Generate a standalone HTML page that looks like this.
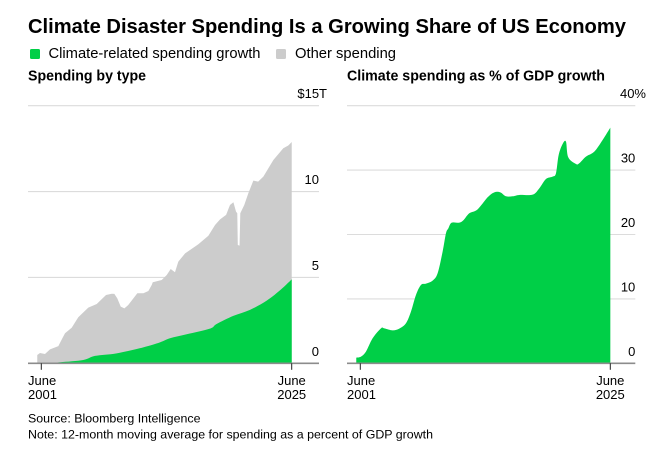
<!DOCTYPE html>
<html lang="en">
<head>
<meta charset="utf-8">
<title>Climate Disaster Spending Is a Growing Share of US Economy</title>
<style>
html,body{margin:0;padding:0;background:#fff;width:662px;height:464px;overflow:hidden}
svg{display:block}
text{font-family:"Liberation Sans",sans-serif;fill:#000}
.title{font-size:20px;font-weight:700}
.legend{font-size:15px}
.sub{font-size:14.5px;font-weight:700}
.tick{font-size:13px}
.foot{font-size:12.3px}
</style>
</head>
<body>
<svg id="chart" xmlns="http://www.w3.org/2000/svg" width="662" height="464" viewBox="0 0 662 464">
  <rect width="662" height="464" fill="#fff"/>
  <text class="title" x="28" y="33" textLength="598" lengthAdjust="spacingAndGlyphs">Climate Disaster Spending Is a Growing Share of US Economy</text>
  <g>
    <rect x="30" y="49" width="10" height="10" rx="1.5" fill="#00cf47"/>
    <text class="legend" x="48.5" y="58" textLength="212" lengthAdjust="spacingAndGlyphs">Climate-related spending growth</text>
    <rect x="276" y="49" width="10" height="10" rx="1.5" fill="#cccccc"/>
    <text class="legend" x="295" y="58" textLength="101" lengthAdjust="spacingAndGlyphs">Other spending</text>
  </g>
  <text class="sub" x="28" y="80.5" textLength="118" lengthAdjust="spacingAndGlyphs">Spending by type</text>
  <text class="sub" x="347" y="80.5" textLength="258" lengthAdjust="spacingAndGlyphs">Climate spending as % of GDP growth</text>
  <g id="left-panel"></g>
  <g id="right-panel"></g>
  <text class="foot" x="28" y="422.7" textLength="172.500" lengthAdjust="spacingAndGlyphs">Source: Bloomberg Intelligence</text>
  <text class="foot" x="28" y="438.7" textLength="405" lengthAdjust="spacingAndGlyphs">Note: 12-month moving average for spending as a percent of GDP growth</text>
</svg>
<script>
var totalYears = [2001.03,2001.29,2001.77,2002.25,2003.05,2003.43,2003.69,2004.33,2004.96,2005.92,2006.73,2007.62,2008.17,2008.42,2008.7,2009.03,2009.38,2009.76,2010.62,2011.2,2011.68,2012.0,2012.1,2012.96,2013.44,2013.82,2014.23,2014.55,2015.2,2016.47,2017.43,2018.07,2018.55,2019.13,2019.5,2019.83,2020.08,2020.2,2020.25,2020.42,2020.49,2020.87,2021.26,2021.74,2022.2,2022.7,2023.66,2024.61,2025.09,2025.42];
var totalSpending = [0.48,0.6,0.54,0.81,1.0,1.45,1.75,2.07,2.68,3.24,3.45,3.98,4.05,4.04,3.78,3.3,3.2,3.4,4.08,4.08,4.21,4.56,4.72,4.85,5.14,5.49,5.3,5.92,6.4,6.93,7.43,8.05,8.38,8.64,9.22,9.38,8.83,8.74,6.89,6.85,8.74,9.22,9.9,10.64,10.58,10.87,11.84,12.52,12.68,12.89];
var climateYears = [2001.42,2003.21,2005.44,2006.56,2008.64,2011.19,2012.79,2013.75,2015.35,2017.58,2018.22,2019.82,2021.42,2023.02,2024.2,2025.42];
var climateSpending = [0,0.06,0.19,0.43,0.58,0.93,1.22,1.46,1.69,2.02,2.29,2.76,3.11,3.65,4.2,4.89];
var shareYears = [2001.03,2001.48,2001.96,2002.6,2003.4,2003.72,2004.52,2005.16,2005.8,2006.28,2006.76,2007.24,2007.72,2008.36,2008.84,2009.32,2009.64,2009.87,2010.19,2010.92,2011.34,2011.88,2012.68,2013.64,2014.28,2014.86,2015.4,2016.04,2016.68,2017.96,2018.6,2019.24,2019.88,2020.2,2020.46,2020.84,2021.16,2021.38,2022.12,2022.44,2023.08,2023.88,2024.68,2025.42];
var shareOfGdp = [0.88,1.04,1.81,3.88,5.43,5.43,5.12,5.38,6.21,8.02,10.61,12.16,12.37,12.84,13.98,17.34,20.19,20.96,21.84,21.84,22.26,23.29,23.91,25.78,26.55,26.55,25.93,25.93,26.14,26.19,27.17,28.62,28.99,29.5,32.35,34.06,34.42,31.99,30.95,31.06,32.09,32.87,34.68,36.59];
var leftTickValues = [0,5,10,15];
var leftTickLabels = ['0','5','10','$15T'];
var rightTickValues = [0,10,20,30,40];
var rightTickLabels = ['0','10','20','30','40%'];
var dateTickYears = [2001.417,2025.417];
var dateTickMonths = ['June','June'];
var dateTickLabels = ['2001','2025'];

var NS = 'http://www.w3.org/2000/svg';
var BASE_Y = 363.3;
var TOP_Y = 105.7;

function makeX(x0, x1) {
  return function (year) {
    return x0 + (year - dateTickYears[0]) * (x1 - x0) / (dateTickYears[1] - dateTickYears[0]);
  };
}
function makeY(max) {
  return function (value) {
    return BASE_Y - value * (BASE_Y - TOP_Y) / max;
  };
}
function linePath(xs, ys, sx, sy) {
  var d = 'M' + sx(xs[0]).toFixed(2) + ' ' + BASE_Y;
  for (var i = 0; i < xs.length; i++) {
    d += 'L' + sx(xs[i]).toFixed(2) + ' ' + sy(ys[i]).toFixed(2);
  }
  return d + 'L' + sx(xs[xs.length - 1]).toFixed(2) + ' ' + BASE_Y + 'Z';
}
function smoothPath(xs, ys, sx, sy) {
  var px = xs.map(sx);
  var py = ys.map(sy);
  var d = 'M' + px[0].toFixed(2) + ' ' + BASE_Y + 'L' + px[0].toFixed(2) + ' ' + py[0].toFixed(2);
  for (var i = 0; i < px.length - 1; i++) {
    var p0 = Math.max(i - 1, 0);
    var p3 = Math.min(i + 2, px.length - 1);
    var c1x = px[i] + (px[i + 1] - px[p0]) / 6;
    var c1y = py[i] + (py[i + 1] - py[p0]) / 6;
    var c2x = px[i + 1] - (px[p3] - px[i]) / 6;
    var c2y = py[i + 1] - (py[p3] - py[i]) / 6;
    d += 'C' + c1x.toFixed(2) + ' ' + c1y.toFixed(2) + ' ' + c2x.toFixed(2) + ' ' + c2y.toFixed(2) + ' ' + px[i + 1].toFixed(2) + ' ' + py[i + 1].toFixed(2);
  }
  return d + 'L' + px[px.length - 1].toFixed(2) + ' ' + BASE_Y + 'Z';
}
function addArea(parent, d, fill, name) {
  var el = document.createElementNS(NS, 'path');
  
  
  el.setAttribute('d', d);
  el.setAttribute('fill', fill);
  parent.appendChild(el);
}
function addGrid(parent, values, sy, x0, x1) {
  values.forEach(function (v) {
    if (v === 0) return;
    var el = document.createElementNS(NS, 'line');
    
    
    el.setAttribute('x1', x0);
    el.setAttribute('x2', x1);
    el.setAttribute('y1', sy(v));
    el.setAttribute('y2', sy(v));
    el.setAttribute('stroke', '#dcdcdc');
    el.setAttribute('stroke-width', '1.1');
    parent.appendChild(el);
  });
}
function addLabel(parent, str, x, y, anchor, name) {
  var el = document.createElementNS(NS, 'text');
  
  
  el.setAttribute('class', 'tick');
  el.setAttribute('x', x);
  el.setAttribute('y', y);
  el.setAttribute('text-anchor', anchor);
  el.textContent = str;
  parent.appendChild(el);
}
function addValueLabels(parent, values, labels, sy, axisEnd, anchorX) {
  values.forEach(function (v, i) {
    var isTop = i === values.length - 1;
    var x = isTop ? anchorX : axisEnd;
    addLabel(parent, labels[i], x, sy(v) - 7.5, 'end', 'y-axis-label');
  });
}
function addAxis(parent, sx, x0, x1, firstLabelX) {
  var axis = document.createElementNS(NS, 'line');
  
  
  axis.setAttribute('x1', x0);
  axis.setAttribute('x2', x1);
  axis.setAttribute('y1', BASE_Y);
  axis.setAttribute('y2', BASE_Y);
  axis.setAttribute('stroke', '#8c8c8c');
  axis.setAttribute('stroke-width', '1.6');
  parent.appendChild(axis);
  dateTickYears.forEach(function (year, i) {
    var tick = document.createElementNS(NS, 'line');
    
    
    tick.setAttribute('x1', sx(year));
    tick.setAttribute('x2', sx(year));
    tick.setAttribute('y1', BASE_Y);
    tick.setAttribute('y2', BASE_Y + 6.5);
    tick.setAttribute('stroke', '#222');
    tick.setAttribute('stroke-width', '1');
    parent.appendChild(tick);
    var lx = i === 0 ? firstLabelX : sx(year);
    var anchor = i === 0 ? 'start' : 'middle';
    addLabel(parent, dateTickMonths[i], lx, 385, anchor, 'x-axis-month-label');
    addLabel(parent, dateTickLabels[i], lx, 399, anchor, 'x-axis-year-label');
  });
}

var leftX = makeX(41.3, 291.7);
var leftY = makeY(15);
var leftPanel = document.getElementById('left-panel');
addGrid(leftPanel, leftTickValues, leftY, 28, 319);
addArea(leftPanel, linePath(totalYears, totalSpending, leftX, leftY), '#cccccc', 'other-spending-area');
addArea(leftPanel, smoothPath(climateYears, climateSpending, leftX, leftY), '#00cf47', 'climate-spending-area');
addValueLabels(leftPanel, leftTickValues, leftTickLabels, leftY, 319, 327);
addAxis(leftPanel, leftX, 28, 319, 28);

var rightX = makeX(360.3, 610.3);
var rightY = makeY(40);
var rightPanel = document.getElementById('right-panel');
addGrid(rightPanel, rightTickValues, rightY, 347, 635.3);
addArea(rightPanel, smoothPath(shareYears, shareOfGdp, rightX, rightY), '#00cf47', 'climate-share-area');
addValueLabels(rightPanel, rightTickValues, rightTickLabels, rightY, 635.3, 646);
addAxis(rightPanel, rightX, 347, 635.3, 347);
</script>
</body>
</html>
